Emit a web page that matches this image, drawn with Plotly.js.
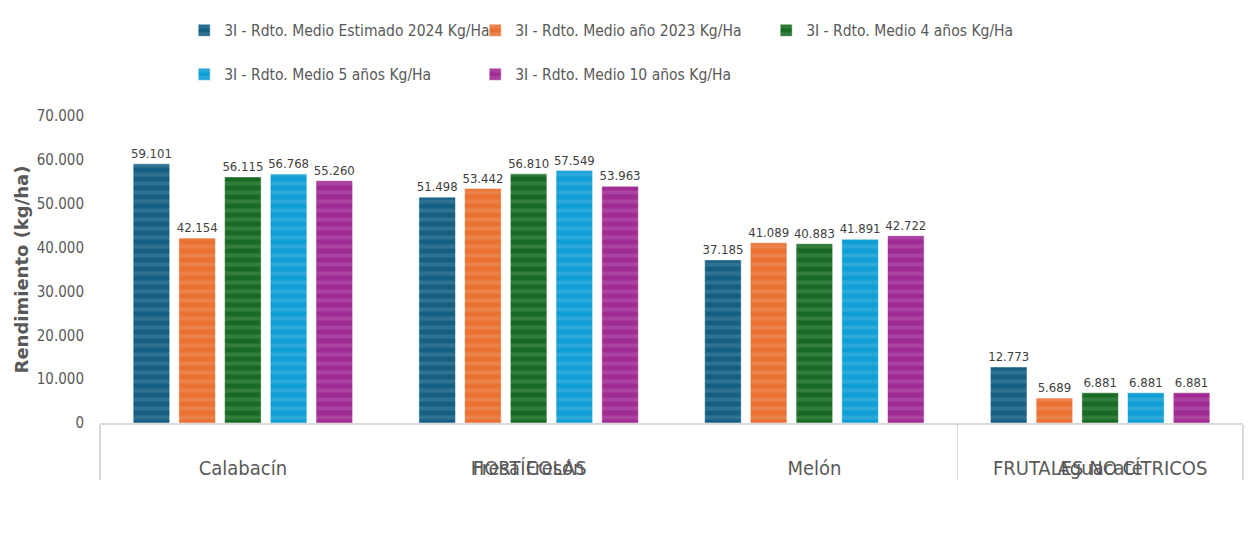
<!DOCTYPE html>
<html>
<head>
<meta charset="utf-8">
<script src="https://cdn.plot.ly/plotly-3.0.1.min.js"></script>
<style>
  html, body { margin: 0; padding: 0; background: #fff; }
  #chart { width: 1253px; height: 549px; }
</style>
</head>
<body>
<div id="chart"></div>
<script>
var groups = ['HORTÍCOLAS', 'HORTÍCOLAS', 'HORTÍCOLAS', 'FRUTALES NO CÍTRICOS'];
var crops = ['Calabacín', 'Fresa Fresón', 'Melón', 'Aguacate'];

var seriesNames = [
    '3I - Rdto. Medio Estimado 2024 Kg/Ha',
    '3I - Rdto. Medio año 2023 Kg/Ha',
    '3I - Rdto. Medio 4 años Kg/Ha',
    '3I - Rdto. Medio 5 años Kg/Ha',
    '3I - Rdto. Medio 10 años Kg/Ha'
];
var est2024 = [59101, 51498, 37185, 12773];
var year2023 = [42154, 53442, 41089, 5689];
var avg4 = [56115, 56810, 40883, 6881];
var avg5 = [56768, 57549, 41891, 6881];
var avg10 = [55260, 53963, 42722, 6881];

var colors = ['#156082', '#E97132', '#196B24', '#0F9ED5', '#A02B93'];
var stripes = ['#2E7291', '#EC8149', '#327C3C', '#2AA9DA', '#AB429F'];
var values = [est2024, year2023, avg4, avg5, avg10];
var legendOf = ['legend', 'legend', 'legend', 'legend2', 'legend2'];

var narrow = 'DejaVu Sans Condensed, Liberation Sans Narrow, Roboto, sans-serif';

var data = values.map(function (v, i) {
    return {
        type: 'bar',
        name: seriesNames[i],
        x: [groups, crops],
        y: v,
        legend: legendOf[i],
        marker: {
            color: colors[i],
            line: {color: '#ffffff', width: 0.5},
            pattern: {shape: '-', size: 9, solidity: 0.45, fgcolor: stripes[i], bgcolor: colors[i]}
        },
        texttemplate: '%{y:,.0f}',
        textposition: 'outside',
        cliponaxis: false,
        constraintext: 'none',
        textfont: {family: narrow, size: 13, color: '#404040'},
        hoverinfo: 'skip'
    };
});

var layout = {
    width: 1253,
    height: 549,
    autosize: false,
    separators: ',.',
    paper_bgcolor: '#ffffff',
    plot_bgcolor: '#ffffff',
    margin: {l: 100, r: 10, t: 116, b: 126, pad: 0},
    barmode: 'group',
    bargap: 0.2,
    bargroupgap: 0.2,
    font: {family: narrow, color: '#595959'},
    xaxis: {
        type: 'multicategory',
        automargin: false,
        showline: true,
        linecolor: '#d9d9d9',
        linewidth: 1.5,
        showdividers: true,
        dividercolor: '#d9d9d9',
        dividerwidth: 1.5,
        ticks: '',
        // push the crop names down a line, like the reference
        tickprefix: '<br>',
        tickfont: {family: narrow, size: 20, color: '#595959'}
    },
    yaxis: {
        range: [0, 70000],
        dtick: 10000,
        tickformat: ',.0f',
        showgrid: false,
        zeroline: false,
        showline: false,
        ticks: '',
        ticklabelstandoff: 15,
        tickfont: {family: narrow, size: 15, color: '#595959'},
        title: {
            text: '<b>Rendimiento (kg/ha)</b>',
            font: {family: 'DejaVu Sans, Arial, sans-serif', size: 18, color: '#595959'},
            standoff: 3
        }
    },
    legend: {
        orientation: 'h',
        xref: 'container', yref: 'container',
        x: 0.147, y: 0.975, xanchor: 'left', yanchor: 'top',
        entrywidth: 246,
        itemwidth: 30,
        font: {family: narrow, size: 15.5, color: '#595959'}
    },
    legend2: {
        orientation: 'h',
        xref: 'container', yref: 'container',
        x: 0.147, y: 0.895, xanchor: 'left', yanchor: 'top',
        entrywidth: 246,
        itemwidth: 30,
        font: {family: narrow, size: 15.5, color: '#595959'}
    },
    showlegend: true
};

Plotly.newPlot('chart', data, layout, {displayModeBar: false, staticPlot: true});
</script>
</body>
</html>
